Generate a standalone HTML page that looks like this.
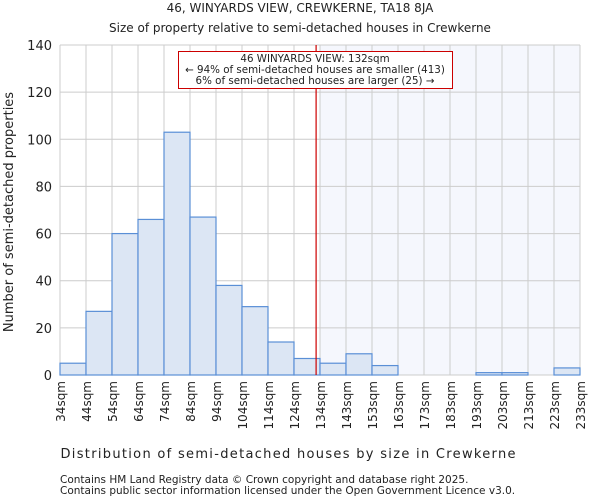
<!DOCTYPE html>
<html><head><meta charset="utf-8"><style>
body{margin:0;background:#fff;font-family:"DejaVu Sans","Liberation Sans",sans-serif}
svg text{font-family:"DejaVu Sans","Liberation Sans",sans-serif;fill:#222}
</style></head><body>
<svg id="c" width="600" height="500">
<text x="300" y="12" font-size="12" text-anchor="middle">46, WINYARDS VIEW, CREWKERNE, TA18 8JA</text>
<text x="300" y="32" font-size="12" text-anchor="middle">Size of property relative to semi-detached houses in Crewkerne</text>
<g id="plot"></g>
<text x="288" y="458" font-size="13" text-anchor="middle" textLength="455">Distribution of semi-detached houses by size in Crewkerne</text>
<text transform="translate(13,212) rotate(-90)" font-size="13" text-anchor="middle" fill="#333">Number of semi-detached properties</text>
<text x="60" y="483" font-size="10.5" fill="#333">Contains HM Land Registry data © Crown copyright and database right 2025.</text>
<text x="60" y="494" font-size="10.5" fill="#333">Contains public sector information licensed under the Open Government Licence v3.0.</text>
</svg>
<script>
const binLabels=["34sqm","44sqm","54sqm","64sqm","74sqm","84sqm","94sqm","104sqm","114sqm","124sqm","134sqm","143sqm","153sqm","163sqm","173sqm","183sqm","193sqm","203sqm","213sqm","223sqm","233sqm"];
const counts=[5,27,60,66,103,67,38,29,14,7,5,9,4,0,0,0,1,1,0,3];
const yTicks=[0,20,40,60,80,100,120,140];
const markerBin=9.85;
const shadeFromBin=10;
const L=60,R=580,T=45,B=375,YMAX=140;
const xs=i=>L+(R-L)*i/counts.length;
const ys=v=>B-(B-T)*v/YMAX;
const ns="http://www.w3.org/2000/svg";
const g=document.getElementById('plot');
function mk(t,a){const e=document.createElementNS(ns,t);for(const k in a)e.setAttribute(k,a[k]);g.appendChild(e);return e;}
let e=mk('rect',{x:xs(shadeFromBin),y:T,width:R-xs(shadeFromBin),height:B-T,fill:'#f5f7fd'});


for(let i=0;i<=counts.length;i++){e=mk('line',{x1:xs(i),x2:xs(i),y1:T,y2:B,stroke:'#ccc','stroke-width':1});

}
yTicks.forEach(v=>{e=mk('line',{x1:L,x2:R,y1:ys(v),y2:ys(v),stroke:'#ccc','stroke-width':1});


e=mk('text',{x:L-8,y:ys(v)+5,'font-size':13,'text-anchor':'end'});e.textContent=v;

});
counts.forEach((v,i)=>{e=mk('rect',{x:xs(i),y:ys(v),width:xs(i+1)-xs(i),height:B-ys(v),fill:'#dce6f4',stroke:'#5a8fd6','stroke-width':1.2});

});
binLabels.forEach((s,i)=>{e=mk('text',{transform:`translate(${xs(i)+5},381) rotate(-90)`,'font-size':12,'text-anchor':'end'});e.textContent=s;

});
e=mk('line',{x1:xs(markerBin),x2:xs(markerBin),y1:T,y2:B,stroke:'#cc0000','stroke-width':1.2});


e=mk('rect',{x:178.5,y:51.5,width:274,height:37,fill:'#fff',stroke:'#cc0000','stroke-width':1});


[["46 WINYARDS VIEW: 132sqm",62],["← 94% of semi-detached houses are smaller (413)",73],["6% of semi-detached houses are larger (25) →",84]].forEach(([t,y])=>{
e=mk('text',{x:315,y:y,'font-size':10.3,'text-anchor':'middle'});e.textContent=t;

});
</script>
</body></html>
